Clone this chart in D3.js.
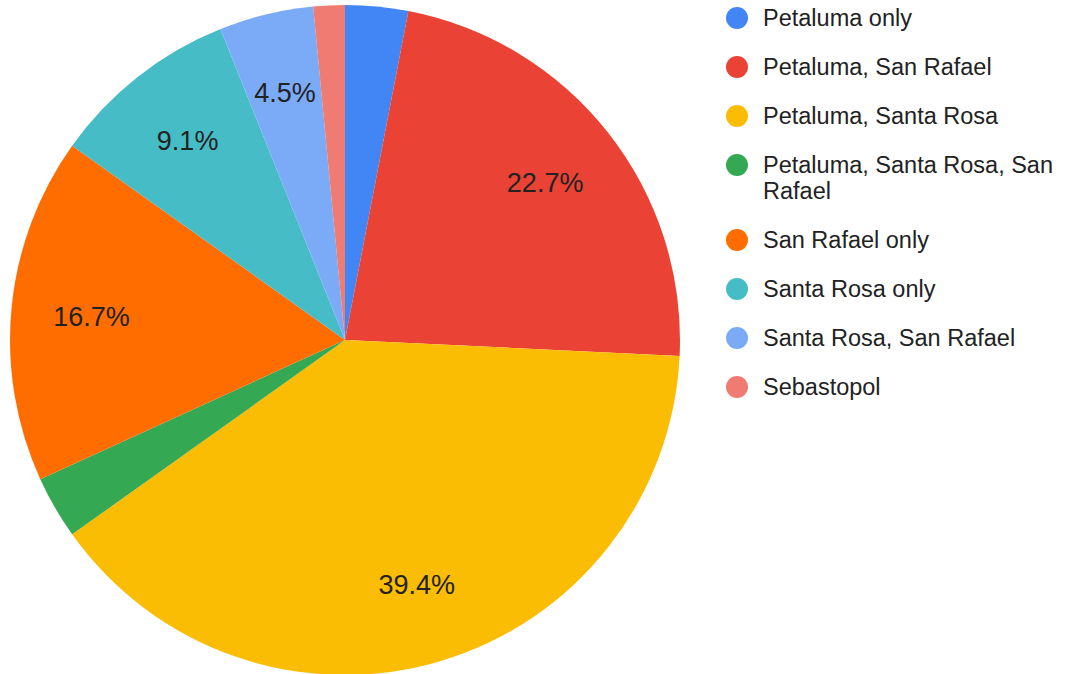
<!DOCTYPE html>
<html>
<head>
<meta charset="utf-8">
<script src="https://cdn.jsdelivr.net/npm/d3@7"></script>
<style>
  body { margin: 0; background: #fff; }
  svg { font-family: "Liberation Sans", Arial, sans-serif; }
</style>
</head>
<body>
<svg id="chart" width="1066" height="674"></svg>
<script>
// slice data (counts of respondents)
const categories = ["Petaluma only", "Petaluma, San Rafael", "Petaluma, Santa Rosa",
  "Petaluma, Santa Rosa, San Rafael", "San Rafael only", "Santa Rosa only",
  "Santa Rosa, San Rafael", "Sebastopol"];
const counts = [2, 15, 26, 2, 11, 6, 3, 1];
const colors = ["#4285F4", "#EA4335", "#FBBC04", "#34A853", "#FF6D01", "#46BDC6", "#7BAAF7", "#F07B72"];

const svg = d3.select("#chart");
const cx = 345, cy = 340, radius = 335;
const total = d3.sum(counts);

const pie = d3.pie().sort(null).value(d => d.value);
const arcs = pie(categories.map((c, i) => ({name: c, value: counts[i], color: colors[i]})));

const arc = d3.arc().innerRadius(0).outerRadius(radius);
const labelArc = d3.arc().innerRadius(radius * 0.76).outerRadius(radius * 0.76);

const g = svg.append("g").attr("transform", `translate(${cx},${cy})`);

g.selectAll("path.slice")
  .data(arcs)
  .join("path")
  .attr("class", "slice")
  .attr("d", arc)
  .attr("fill", d => d.data.color);

//only label slices that are big enough
g.selectAll("text.pct")
  .data(arcs.filter(d => d.data.value / total >= 0.04))
  .join("text")
  .attr("class", "pct")
  .attr("transform", d => `translate(${labelArc.centroid(d)})`)
  .attr("text-anchor", "middle")
  .attr("dy", "0.36em")
  .attr("font-size", 27)
  .attr("fill", "#222")
  .text(d => (d.data.value / total * 100).toFixed(1) + "%");

// legend
const legend = svg.append("g").attr("transform", "translate(737,0)");
let y = 18;
categories.forEach((c, i) => {
  const row = legend.append("g").attr("transform", `translate(0,${y})`);
  row.append("circle").attr("r", 11).attr("fill", colors[i]);
  const txt = row.append("text")
    .attr("x", 26)
    .attr("dy", "0.36em")
    .attr("font-size", 23.5)
    .attr("fill", "#222");

  //simple word wrap to fit the right edge
  const words = c.split(" ");
  let line = [];
  let lineNo = 0;
  let tspan = txt.append("tspan").attr("x", 26);
  words.forEach(w => {
    line.push(w);
    tspan.text(line.join(" "));
    if (tspan.node().getComputedTextLength() > 302 && line.length > 1) {
      line.pop();
      tspan.text(line.join(" "));
      line = [w];
      lineNo++;
      tspan = txt.append("tspan").attr("x", 26).attr("dy", 26).text(w);
    }
  });
  y += 49 + lineNo * 26;
});
</script>
</body>
</html>
